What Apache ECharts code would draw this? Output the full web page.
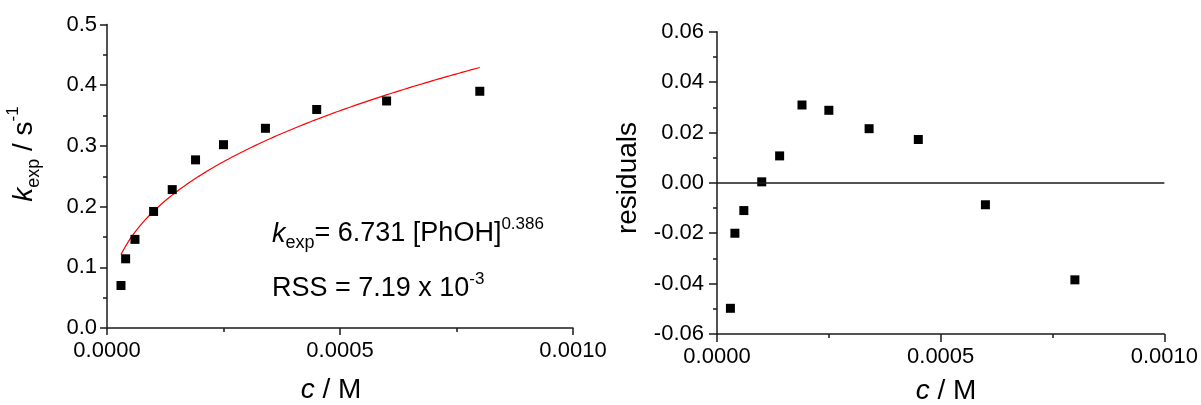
<!DOCTYPE html>
<html>
<head>
<meta charset="utf-8">
<script src="https://cdn.jsdelivr.net/npm/echarts@6/dist/echarts.min.js"></script>
<style>
  html, body { margin: 0; padding: 0; background: #ffffff; }
  #chart { width: 1201px; height: 405px; }
</style>
</head>
<body>
<div id="chart"></div>
<script>
// PhOH concentration (M) of each kinetic run
const concentration = [0.00003, 0.00004, 0.00006, 0.0001, 0.00014, 0.00019, 0.00025, 0.00034, 0.00045, 0.0006, 0.0008];
// observed pseudo-first-order rate constants k_exp (s^-1)
const kExp = [0.070, 0.114, 0.146, 0.192, 0.228, 0.277, 0.302, 0.329, 0.360, 0.374, 0.390];
// residuals of the power-law fit
const residuals = [-0.0498, -0.0200, -0.0110, 0.0004, 0.0107, 0.0309, 0.0288, 0.0215, 0.0172, -0.0087, -0.0385];

// power-law fit: k_exp = A [PhOH]^B
const FIT_A = 6.731;
const FIT_B = 0.386;
const RSS_MANTISSA = '7.19';
const RSS_EXPONENT = '-3';

// tick labels
const concTickLabels = ['0.0000', '0.0005', '0.0010'];
const kTickLabels = ['0.0', '0.1', '0.2', '0.3', '0.4', '0.5'];
const residualTickLabels = ['-0.06', '-0.04', '-0.02', '0.00', '0.02', '0.04', '0.06'];

const FONT = '"Liberation Sans", Arial, Helvetica, sans-serif';
const INK = '#1a1a1a';

function tickAxis(labels, tickLen, labelMargin, extra) {
  const min = parseFloat(labels[0]);
  const max = parseFloat(labels[labels.length - 1]);
  return Object.assign({
    type: 'value',
    min: min,
    max: max,
    interval: (max - min) / (labels.length - 1),
    splitLine: { show: false },
    axisLine: { show: true, onZero: false, lineStyle: { color: INK, width: 1.5 } },
    axisTick: { show: true, inside: false, length: tickLen, lineStyle: { color: INK, width: 1.5 } },
    minorTick: { show: true, splitNumber: 2, length: 4, lineStyle: { color: INK, width: 1.5 } },
    axisLabel: {
      color: '#000', fontFamily: FONT, fontSize: 22, lineHeight: 22, margin: labelMargin,
      formatter: function (v) {
        const hit = labels.find(function (l) { return Math.abs(parseFloat(l) - v) < 1e-9; });
        return hit !== undefined ? hit : '';
      }
    }
  }, extra || {});
}

// fitted curve from the stated fit parameters, over the measured range
const fitCurve = [];
(function () {
  const c0 = concentration[0];
  const c1 = concentration[concentration.length - 1];
  const n = 120;
  for (let i = 0; i <= n; i++) {
    const c = c0 + (c1 - c0) * i / n;
    fitCurve.push([c, FIT_A * Math.pow(c, FIT_B)]);
  }
})();

const richText = {
  m:   { fontFamily: FONT, fontSize: 27, lineHeight: 36, color: '#000' },
  k:   { fontFamily: FONT, fontSize: 27, lineHeight: 36, color: '#000', fontStyle: 'italic' },
  sub: { fontFamily: FONT, fontSize: 18, lineHeight: 12, color: '#000', verticalAlign: 'bottom' },
  sup: { fontFamily: FONT, fontSize: 17, lineHeight: 12, color: '#000', verticalAlign: 'top' }
};
const richTitle = {
  m:   { fontFamily: FONT, fontSize: 28, lineHeight: 38, color: '#000' },
  k:   { fontFamily: FONT, fontSize: 28, lineHeight: 38, color: '#000', fontStyle: 'italic' },
  sub: { fontFamily: FONT, fontSize: 18, lineHeight: 12, color: '#000', verticalAlign: 'bottom' },
  sup: { fontFamily: FONT, fontSize: 17, lineHeight: 12, color: '#000', verticalAlign: 'top' }
};

function label(x, y, text, rich, align, rotation) {
  return {
    type: 'text',
    x: x, y: y,
    rotation: rotation || 0,
    silent: true,
    style: {
      text: text, rich: rich,
      align: align, textAlign: align,
      verticalAlign: 'middle', textVerticalAlign: 'middle'
    }
  };
}

const chart = echarts.init(document.getElementById('chart'), null, { renderer: 'canvas' });
chart.setOption({
  animation: false,
  backgroundColor: '#ffffff',
  grid: [
    { left: 107, top: 24.5, width: 466, height: 303.5 },
    { left: 717, top: 31.7, width: 449, height: 302.3 }
  ],
  xAxis: [
    tickAxis(concTickLabels, 7, 12, { gridIndex: 0 }),
    tickAxis(concTickLabels, 8, 12, { gridIndex: 1 })
  ],
  yAxis: [
    tickAxis(kTickLabels, 7, 10, { gridIndex: 0 }),
    tickAxis(residualTickLabels, 8, 13, { gridIndex: 1 })
  ],
  series: [
    {
      name: 'fit', type: 'line', xAxisIndex: 0, yAxisIndex: 0,
      data: fitCurve, showSymbol: false, smooth: false, z: 2,
      lineStyle: { color: '#ff0000', width: 1.2 }
    },
    {
      name: 'k_exp', type: 'scatter', xAxisIndex: 0, yAxisIndex: 0,
      data: concentration.map(function (c, i) { return [c, kExp[i]]; }),
      symbol: 'rect', symbolSize: 9, z: 3,
      itemStyle: { color: '#000', opacity: 1 }
    },
    {
      name: 'residuals', type: 'scatter', xAxisIndex: 1, yAxisIndex: 1,
      data: concentration.map(function (c, i) { return [c, residuals[i]]; }),
      symbol: 'rect', symbolSize: 9, z: 3,
      itemStyle: { color: '#000', opacity: 1 },
      markLine: {
        silent: true, symbol: 'none', animation: false,
        label: { show: false },
        lineStyle: { color: INK, width: 1.5, type: 'solid' },
        data: [{ yAxis: 0 }]
      }
    }
  ],
  graphic: [
    label(272, 234, '{k|k}{sub|exp}{m|= ' + FIT_A.toFixed(3) + ' [PhOH]}{sup|' + FIT_B.toFixed(3) + '}', richText, 'left'),
    label(272, 289, '{m|RSS = ' + RSS_MANTISSA + ' x 10}{sup|' + RSS_EXPONENT + '}', richText, 'left'),
    label(24, 154, '{k|k}{sub|exp}{m| / s}{sup|-1}', richTitle, 'center', Math.PI / 2),
    label(331, 390, '{k|c}{m| / M}', richTitle, 'center'),
    label(946, 391, '{k|c}{m| / M}', richTitle, 'center'),
    label(628, 178, '{m|residuals}', richTitle, 'center', Math.PI / 2)
  ]
});
</script>
</body>
</html>
